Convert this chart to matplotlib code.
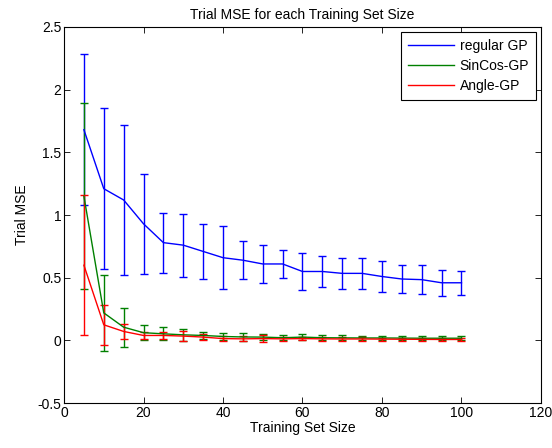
import matplotlib
matplotlib.use("Agg")
import matplotlib.pyplot as plt

plt.rcParams["font.family"] = ["Liberation Sans", "DejaVu Sans"]

sizes = [5, 10, 15, 20, 25, 30, 35, 40, 45, 50, 55, 60, 65, 70, 75, 80, 85, 90, 95, 100]

regular_mean = [1.68, 1.21, 1.12, 0.93, 0.78, 0.76, 0.71, 0.66, 0.64, 0.61, 0.61, 0.55, 0.55, 0.535,
                0.535, 0.51, 0.49, 0.485, 0.46, 0.46]
regular_err = [0.60, 0.64, 0.60, 0.40, 0.24, 0.25, 0.22, 0.25, 0.15, 0.15, 0.115, 0.15, 0.125, 0.125,
               0.125, 0.12, 0.11, 0.115, 0.105, 0.095]

sincos_mean = [1.15, 0.22, 0.106, 0.062, 0.053, 0.045, 0.04, 0.032, 0.028, 0.027, 0.022, 0.027, 0.022,
               0.021, 0.02, 0.02, 0.019, 0.018, 0.018, 0.018]
sincos_err = [0.74, 0.30, 0.155, 0.062, 0.053, 0.05, 0.03, 0.03, 0.035, 0.025, 0.02, 0.025, 0.02,
              0.02, 0.018, 0.018, 0.016, 0.016, 0.016, 0.016]

angle_mean = [0.60, 0.125, 0.072, 0.04, 0.04, 0.035, 0.027, 0.015, 0.013, 0.015, 0.013, 0.015, 0.013,
              0.012, 0.012, 0.011, 0.01, 0.009, 0.008, 0.008]
angle_err = [0.56, 0.16, 0.062, 0.03, 0.03, 0.04, 0.025, 0.02, 0.02, 0.025, 0.015, 0.015, 0.015,
             0.014, 0.014, 0.012, 0.012, 0.01, 0.01, 0.01]

xticks = [0, 20, 40, 60, 80, 100, 120]
yticks = [-0.5, 0, 0.5, 1, 1.5, 2, 2.5]
ytick_labels = ["-0.5", "0", "0.5", "1", "1.5", "2", "2.5"]

fig = plt.figure(figsize=(5.52, 4.48), dpi=100)
ax = fig.add_axes([0.116, 0.100, 0.864, 0.840])

ax.errorbar(sizes, regular_mean, yerr=regular_err, color="#0000ff", lw=1.0, elinewidth=1.0,
            capsize=3, label="regular GP")
ax.errorbar(sizes, sincos_mean, yerr=sincos_err, color="#008000", lw=1.0, elinewidth=1.0,
            capsize=3, label="SinCos-GP")
ax.errorbar(sizes, angle_mean, yerr=angle_err, color="#ff0000", lw=1.0, elinewidth=1.0,
            capsize=3, label="Angle-GP")

ax.set_xlim(0, 120)
ax.set_ylim(-0.5, 2.5)
ax.set_xticks(xticks)
ax.set_xticklabels([str(t) for t in xticks])
ax.set_yticks(yticks)
ax.set_yticklabels(ytick_labels)
ax.tick_params(direction="in", top=True, right=True, length=4, labelsize=10, width=0.6, pad=2)
for s in ax.spines.values():
    s.set_linewidth(0.8)

ax.set_title("Trial MSE for each Training Set Size", fontsize=10, pad=6)
ax.set_xlabel("Training Set Size", fontsize=10, labelpad=1)
ax.set_ylabel("Trial MSE", fontsize=10, labelpad=6)

# legend shows plain lines, no error caps
handles, labels = ax.get_legend_handles_labels()
handles = [h[0] for h in handles]
leg = ax.legend(handles, labels, loc="upper right", fontsize=10, fancybox=False, framealpha=1,
                edgecolor="black", borderaxespad=0.35, handlelength=3.3, handletextpad=0.4,
                labelspacing=0.45, borderpad=0.5)
leg.get_frame().set_linewidth(0.8)

fig.savefig("out.png", dpi=100)
